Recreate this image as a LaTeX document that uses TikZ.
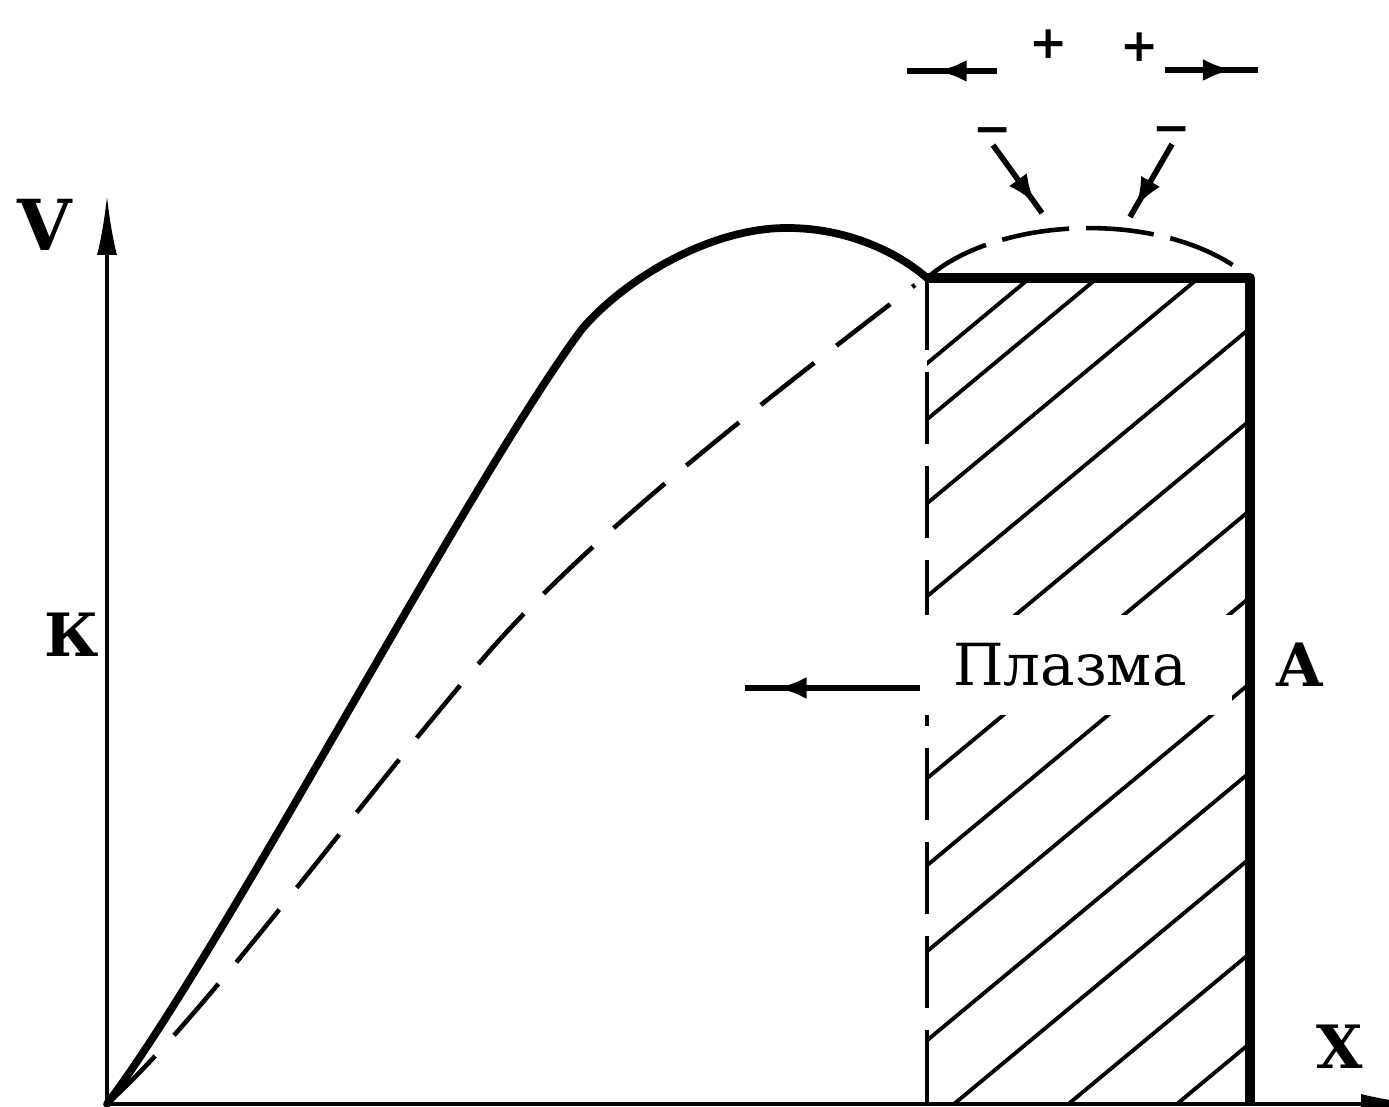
\documentclass[tikz,border=0pt]{standalone}
\usepackage{fontspec}
\setmainfont{DejaVu Serif}
\usepackage{tikz}
\usetikzlibrary{
	arrows.meta,
	decorations.markings
}

\begin{document}
\begin{tikzpicture}[
		axisline/.style={line width=1.1pt},
		curveline/.style={line width=2.2pt, line join=round, line cap=round},
		dashline/.style={line width=1.3pt, dash pattern=on 0.68cm off 0.28cm},
		wallline/.style={line width=2.8pt, line join=round},
		hatchline/.style={line width=1.1pt},
		midarrow/.style={line width=1.6pt, postaction={decorate},
			decoration={markings, mark=at position #1 with {\arrow{Latex[length=3mm,width=2.2mm]}}}},
		midarrow/.default=0.8,
		lab/.style={inner sep=0pt, font=\fontsize{17}{17}\selectfont\bfseries},
		sign/.style={inner sep=0pt, font=\fontsize{13}{13}\selectfont\bfseries}
	]
	\useasboundingbox (-1.07,-0.03) rectangle (12.82,11.04);
	\clip (-1.07,-0.03) rectangle (12.82,11.04);

	% оси
	\coordinate (O) at (0,0);
	\coordinate (Vtop) at (0,9.09);
	\coordinate (Xend) at (13.14,0);
	\draw[axisline, -{Latex[length=6mm,width=2mm]}] (O) -- (Vtop);
	\draw[axisline, -{Latex[length=6mm,width=2mm]}] (O) -- (Xend);
	\node[lab, font=\fontsize{20}{20}\selectfont\bfseries] (vlab) at (-0.62,8.79) {V};
	\node[lab] (klab) at (-0.35,4.69) {К};
	\node[lab] (xlab) at (12.33,0.57) {X};

	% плазма
	\coordinate (PL) at (8.2,8.26);
	\coordinate (PR) at (11.43,8.26);
	\coordinate (PRb) at (11.43,0);
	\coordinate (PLb) at (8.2,0);
	\begin{scope}
		\clip (PLb) rectangle (PR);
		\foreach \b in {0.6,0.04,-0.8,-1.73,-2.65,-3.55,-4.42,-5.28,-6.17,-7.03,-7.98,-8.88}
			\draw[hatchline] (8,{6.64+(\b)}) -- (11.6,{9.628+(\b)});
	\end{scope}
	\draw[hatchline, line width=1.3pt, dash pattern=on 0.72cm off 0.22cm] (PL) -- (PLb);
	\node[fill=white, inner xsep=0.45cm, inner ysep=0.28cm,
		font=\fontsize{16.5}{16.5}\selectfont] (plasma) at (9.63,4.39) {Плазма};
	\draw[wallline] (PL) -- (PR) -- (PRb);
	\node[lab] (alab) at (11.93,4.39) {А};

	% граница плазмы
	\draw[dashline, dash pattern=on 0.68cm off 0.17cm] (PL) .. controls (8.93,8.9) and (10.63,8.95) .. (PR);

	% потенциал
	\draw[curveline] (O) .. controls (1.2,1.6) and (3.6,6.2) .. (4.75,7.75)
		.. controls (5.15,8.22) and (6.0,8.76) .. (6.8,8.76)
		.. controls (7.4,8.76) and (7.9,8.52) .. (PL);
	\draw[dashline] (O) .. controls (1.0,0.9) and (2.5,3.0) .. (3.8,4.5)
		.. controls (4.9,5.77) and (6.8,7.2) .. (8.08,8.19);

	% движение плазмы
	\coordinate (paA) at (8.13,4.16);
	\coordinate (paB) at (6.38,4.16);
	\draw[midarrow=0.82] (paA) -- (paB);

	% ионы и электроны
	\node[sign] (plusL) at (9.42,10.60) {+};
	\node[sign] (plusR) at (10.33,10.57) {+};
	\node[sign] (minusL) at (8.86,9.68) {−};
	\node[sign] (minusR) at (10.65,9.69) {−};
	\coordinate (tlA) at (8.90,10.33);
	\coordinate (tlB) at (8.00,10.33);
	\coordinate (trA) at (10.58,10.34);
	\coordinate (trB) at (11.51,10.34);
	\coordinate (dlB) at (9.35,8.91);
	\coordinate (drB) at (10.23,8.87);
	\draw[midarrow=0.67] (tlA) -- (tlB);
	\draw[midarrow=0.73] (trA) -- (trB);
	\draw[midarrow=0.87] (minusL.south) -- (dlB);
	\draw[midarrow=0.87] (minusR.south) -- (drB);
\end{tikzpicture}
\end{document}
